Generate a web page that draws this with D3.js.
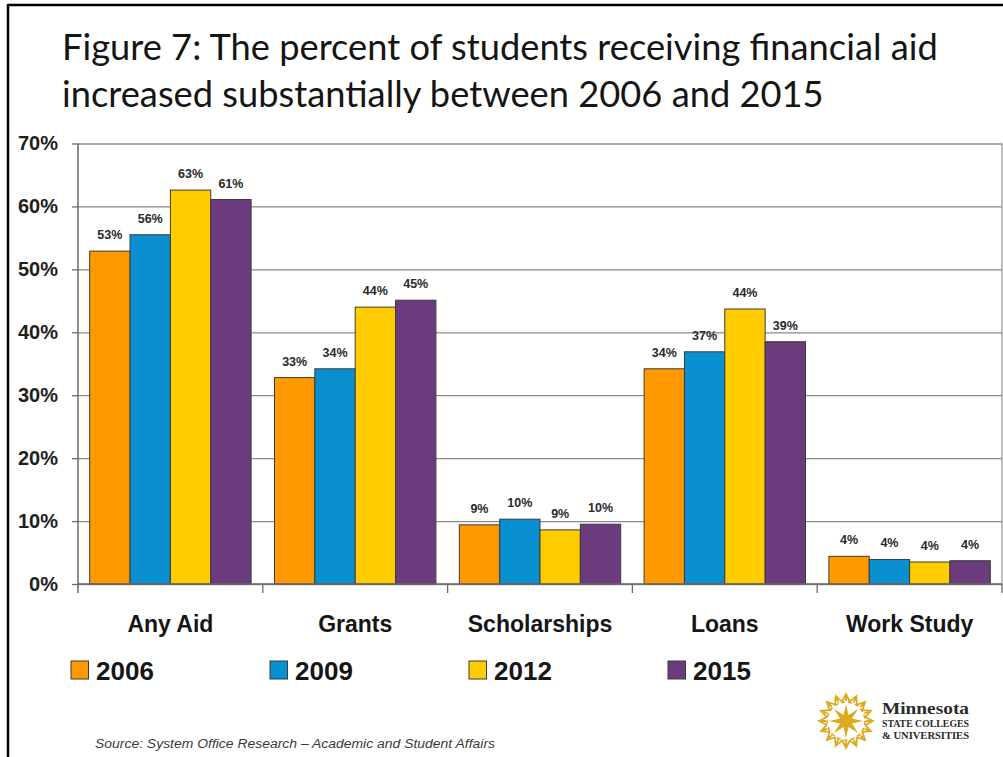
<!DOCTYPE html>
<html>
<head>
<meta charset="utf-8">
<script src="https://cdn.jsdelivr.net/npm/d3@7"></script>
<style>
  html, body { margin: 0; padding: 0; background: #fff; }
  svg { display: block; }
</style>
</head>
<body>
<svg id="chart" width="1003" height="757"></svg>
<script>
// Share of students receiving each kind of financial aid, by survey year
const categories = ["Any Aid", "Grants", "Scholarships", "Loans", "Work Study"];
const years = ["2006", "2009", "2012", "2015"];
const values2006 = [52.9, 32.8, 9.4, 34.2, 4.4];
const values2009 = [55.5, 34.2, 10.3, 36.9, 3.9];
const values2012 = [62.6, 44.0, 8.6, 43.7, 3.5];
const values2015 = [61.1, 45.1, 9.5, 38.5, 3.7];
const yTicks = [0, 10, 20, 30, 40, 50, 60, 70];
const titleLines = [
  "Figure 7: The percent of students receiving financial aid",
  "increased substantially between 2006 and 2015"
];
const sourceNote = "Source: System Office Research \u2013 Academic and Student Affairs";

const seriesValues = [values2006, values2009, values2012, values2015];
const colors = ["#FF9900", "#0A90D0", "#FFCC00", "#6C3B7D"];

const svg = d3.select("#chart");
svg.append("rect").attr("width", 1003).attr("height", 757).attr("fill", "#fff");

// slide frame
svg.append("line").attr("x1", 8).attr("x2", 1003).attr("y1", 5).attr("y2", 5)
  .attr("stroke", "#000").attr("stroke-width", 2.5);
svg.append("line").attr("x1", 8).attr("x2", 8).attr("y1", 4).attr("y2", 757)
  .attr("stroke", "#000").attr("stroke-width", 2.5);

// title, sized so the first line spans its measured width
const titleFont = "Lato, 'Open Sans', sans-serif";
const titleSpecs = [{ y: 60 }, { y: 107 }];
const t0 = svg.append("text").attr("font-family", titleFont).attr("font-size", 36)
  .text(titleLines[0]);
const titleSize = 36 * 876 / t0.node().getComputedTextLength();
t0.remove();
titleLines.forEach((line, i) => {
  svg.append("text")
    .attr("x", 62).attr("y", titleSpecs[i].y)
    .attr("font-family", titleFont)
    .attr("font-size", titleSize)
    .attr("fill", "#151515")
    .text(line);
});

// scales
const plot = { left: 78, right: 1002, top: 143.5, bottom: 584 };
const x = d3.scaleBand().domain(categories).range([plot.left, plot.right])
  .paddingInner(0).paddingOuter(0);
const xs = d3.scaleBand().domain(years).range([0, x.bandwidth()])
  .paddingInner(0).paddingOuter(0.29);
const y = d3.scaleLinear().domain([0, 70]).range([plot.bottom, plot.top]);

// gridlines
svg.append("g")
  .attr("transform", `translate(${plot.left},0)`)
  .call(d3.axisLeft(y).tickValues(yTicks).tickSize(-(plot.right - plot.left)).tickFormat(""))
  .call(g => g.select(".domain").remove())
  .call(g => g.selectAll("line").attr("stroke", "#8a8a8a").attr("stroke-width", 1.3));

// right edge of plot area
svg.append("line").attr("x1", plot.right).attr("x2", plot.right)
  .attr("y1", plot.top).attr("y2", plot.bottom)
  .attr("stroke", "#9a9a9a").attr("stroke-width", 1.3);

// bars
const rows = [];
categories.forEach((c, ci) => {
  years.forEach((yr, si) => {
    rows.push({ cat: c, year: yr, value: seriesValues[si][ci], color: colors[si] });
  });
});

const barG = svg.append("g");
barG.selectAll("rect").data(rows).join("rect")
  .attr("x", d => x(d.cat) + xs(d.year))
  .attr("y", d => y(d.value))
  .attr("width", xs.bandwidth())
  .attr("height", d => y(0) - y(d.value))
  .attr("fill", d => d.color)
  .attr("stroke", "#3b3b3b")
  .attr("stroke-width", 1);

// value labels
barG.selectAll("text").data(rows).join("text")
  .attr("x", d => x(d.cat) + xs(d.year) + xs.bandwidth() / 2)
  .attr("y", d => y(d.value) - 12)
  .attr("text-anchor", "middle")
  .attr("font-family", "Arial, 'Liberation Sans', sans-serif")
  .attr("font-weight", "bold")
  .attr("font-size", 12.5)
  .attr("fill", "#2a2a2a")
  .text(d => Math.round(d.value) + "%");

// y axis
svg.append("g")
  .attr("transform", `translate(${plot.left},0)`)
  .call(d3.axisLeft(y).tickValues(yTicks).tickSize(6).tickPadding(14)
    .tickFormat(d => d + "%"))
  .call(g => g.select(".domain").attr("stroke", "#6a6a6a").attr("stroke-width", 1.5)
    .attr("d", `M0,${plot.top}V${plot.bottom + 9}`))
  .call(g => g.selectAll("line").attr("stroke", "#6a6a6a").attr("stroke-width", 1.3))
  .call(g => g.selectAll("text")
    .attr("font-family", "Arial, 'Liberation Sans', sans-serif")
    .attr("font-weight", "bold")
    .attr("font-size", 20)
    .attr("fill", "#1e1e1e"));

// category axis with boundary ticks
const xAxisG = svg.append("g");
xAxisG.append("line")
  .attr("x1", plot.left).attr("x2", plot.right)
  .attr("y1", plot.bottom).attr("y2", plot.bottom)
  .attr("stroke", "#6a6a6a").attr("stroke-width", 1.5);
const bounds = categories.map(c => x(c)).concat([x(categories[categories.length - 1]) + x.bandwidth()]);
xAxisG.selectAll("line.tick").data(bounds.slice(1)).join("line")
  .attr("class", "tick")
  .attr("x1", d => d).attr("x2", d => d)
  .attr("y1", plot.bottom).attr("y2", plot.bottom + 9)
  .attr("stroke", "#6a6a6a").attr("stroke-width", 1.3);
xAxisG.selectAll("text").data(categories).join("text")
  .attr("x", d => x(d) + x.bandwidth() / 2)
  .attr("y", 631.5)
  .attr("text-anchor", "middle")
  .attr("font-family", "Arial, 'Liberation Sans', sans-serif")
  .attr("font-weight", "bold")
  .attr("font-size", 23)
  .attr("fill", "#161616")
  .text(d => d);

// legend
const legendX = d3.scalePoint().domain(years).range([71, 668]);
const legend = svg.append("g");
years.forEach((yr, i) => {
  const lx = legendX(yr);
  legend.append("rect")
    .attr("x", lx).attr("y", 661).attr("width", 17.5).attr("height", 18)
    .attr("fill", colors[i]).attr("stroke", "#3b3b3b").attr("stroke-width", 1);
  legend.append("text")
    .attr("x", lx + 25).attr("y", 679.5)
    .attr("font-family", "Arial, 'Liberation Sans', sans-serif")
    .attr("font-weight", "bold")
    .attr("font-size", 26)
    .attr("fill", "#161616")
    .text(yr);
});

// source note
svg.append("text")
  .attr("x", 95).attr("y", 748)
  .attr("font-family", "Arial, 'Liberation Sans', sans-serif")
  .attr("font-style", "italic")
  .attr("font-size", 12.5)
  .attr("fill", "#3a3a3a")
  .attr("textLength", 400)
  .attr("lengthAdjust", "spacingAndGlyphs")
  .text(sourceNote);

// Minnesota State Colleges & Universities mark
const logo = svg.append("g").attr("transform", "translate(846,721)");
const gold = "#DDA91E";
// central eight-point star
const starPts = d3.range(16).map(i => {
  const a = i * Math.PI / 8 - Math.PI / 2;
  const r = i % 2 === 0 ? 17 : 6.5;
  return [r * Math.cos(a), r * Math.sin(a)];
});
logo.append("path").attr("d", d3.line()(starPts) + "Z").attr("fill", gold);
// ring of chevron rays
d3.range(16).forEach(i => {
  const a = i * 360 / 16;
  logo.append("path")
    .attr("transform", `rotate(${a})`)
    .attr("d", "M-4,-19 L0,-27 L4,-19 M0,-27 L0,-20")
    .attr("fill", "none").attr("stroke", gold).attr("stroke-width", 1.8);
});
logo.append("circle").attr("r", 19).attr("fill", "none").attr("stroke", gold)
  .attr("stroke-width", 1.6).attr("stroke-dasharray", "4 3");

const serif = "'Liberation Serif', 'DejaVu Serif', serif";
svg.append("text").attr("x", 882).attr("y", 714)
  .attr("font-family", serif).attr("font-weight", "bold").attr("font-size", 16)
  .attr("fill", "#2a2a2a").attr("textLength", 87).attr("lengthAdjust", "spacingAndGlyphs")
  .text("Minnesota");
svg.append("text").attr("x", 882).attr("y", 727)
  .attr("font-family", serif).attr("font-weight", "bold").attr("font-size", 9.5)
  .attr("fill", "#2a2a2a").attr("textLength", 87).attr("lengthAdjust", "spacingAndGlyphs")
  .text("STATE COLLEGES");
svg.append("text").attr("x", 882).attr("y", 739)
  .attr("font-family", serif).attr("font-weight", "bold").attr("font-size", 9.5)
  .attr("fill", "#2a2a2a").attr("textLength", 87).attr("lengthAdjust", "spacingAndGlyphs")
  .text("& UNIVERSITIES");
</script>
</body>
</html>
